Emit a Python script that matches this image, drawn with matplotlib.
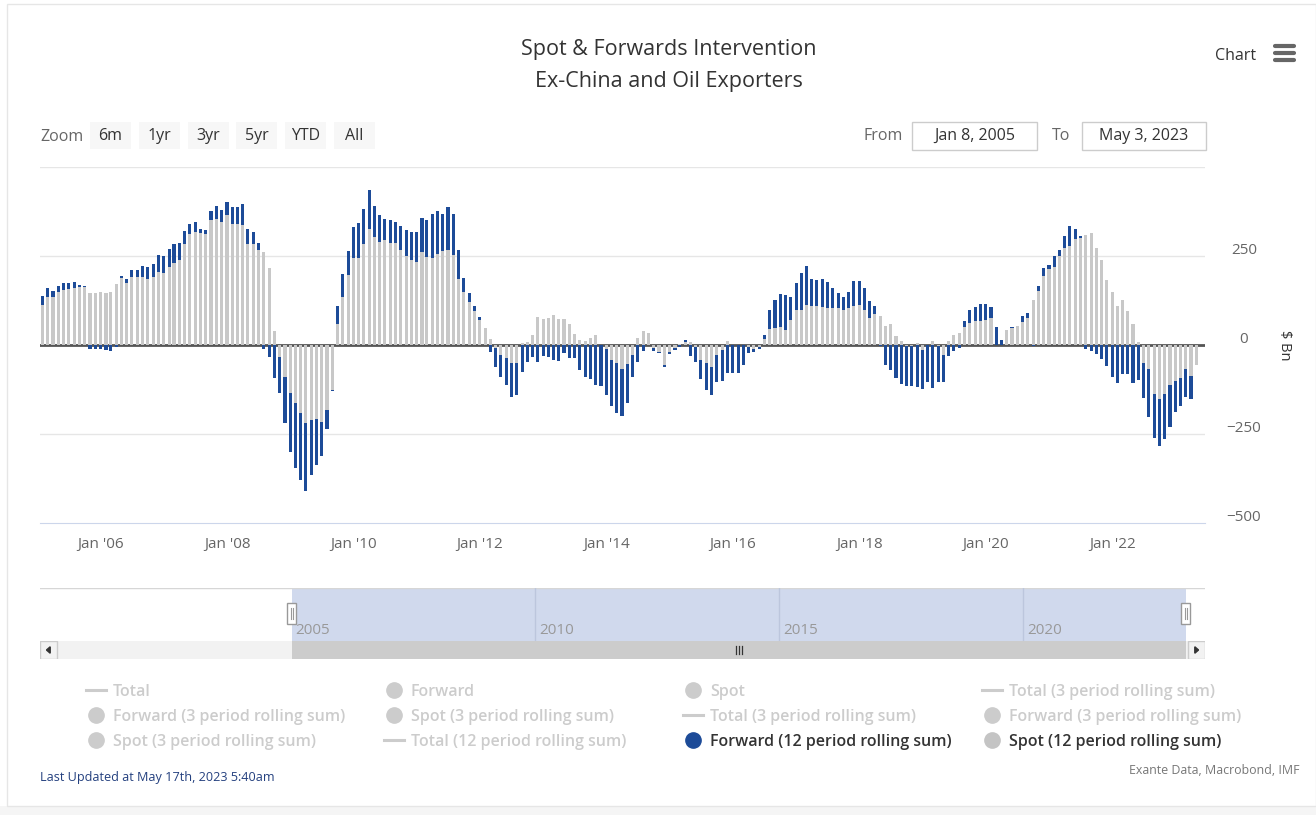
import numpy as np
import pandas as pd
import matplotlib
matplotlib.use('Agg')
import matplotlib.pyplot as plt
import matplotlib.dates as mdates
from matplotlib.patches import Rectangle, Polygon
from matplotlib.lines import Line2D
from matplotlib.transforms import blended_transform_factory, ScaledTranslation

plt.rcParams['font.family'] = ['Open Sans', 'DejaVu Sans']

W, H = 1316, 815

# monthly 12 period rolling sums, $ Bn, Jan 2005 .. Apr 2023
months = pd.date_range('2005-01-31', periods=220, freq='ME')

spot_12m = [
    112, 135, 135, 148, 154, 157, 159, 162, 162, 147, 147, 150,      # 2005
    147, 150, 170, 188, 173, 192, 192, 192, 185, 192, 206, 201,      # 2006
    218, 229, 240, 285, 311, 318, 315, 313, 350, 355, 346, 364,      # 2007
    341, 341, 336, 285, 285, 268, 262, 217, 39, -33, -89, -136,      # 2008
    -164, -192, -220, -210, -208, -215, -182, -127, 60, 136, 196, 243,  # 2009
    243, 285, 327, 303, 290, 294, 287, 287, 268, 249, 238, 233,      # 2010
    262, 247, 243, 257, 264, 266, 252, 185, 150, 121, 96, 70,        # 2011
    47, 16, -9, -28, -37, -51, -51, 5, 8, 28, 78, 72,                # 2012
    77, 84, 72, 72, 58, 30, 14, 11, 21, 28, 0, -12,                  # 2013
    -42, -50, -68, -53, -28, 20, 38, 35, -8, -20, -56, -19,          # 2014
    -8, 2, 8, 8, -5, -42, -51, -61, -28, -14, 12, 0,                 # 2015
    0, 0, -5, -12, -5, 17, 44, 47, 51, 42, 70, 98,                   # 2016
    97, 113, 109, 109, 107, 103, 103, 103, 98, 103, 109, 111,        # 2017
    99, 77, 87, 82, 54, 58, 25, 12, -3, -3, 5, -14,                  # 2018
    0, 12, -3, -28, 12, 28, 35, 51, 62, 68, 68, 71,                  # 2019
    76, 0, 0, 42, 47, 54, 65, 77, 126, 153, 195, 213,                # 2020
    218, 250, 272, 279, 297, 300, 309, 314, 272, 239, 182, 148,      # 2021
    110, 126, 96, 58, 8, -50, -68, -137, -152, -137, -113, -100,     # 2022
    -93, -68, -87, -56,                                              # 2023
]

forward_12m = [
    25, 24, 16, 17, 19, 16, 17, 6, 3, -10, -10, -12,                 # 2005
    -15, -18, -5, 5, 11, 18, 20, 31, 35, 35, 48, 49,                 # 2006
    53, 54, 47, 36, 28, 28, 12, 11, 26, 36, 34, 38,                  # 2007
    47, 47, 59, 42, 33, 19, -10, -35, -93, -103, -131, -164,         # 2008
    -182, -187, -191, -154, -128, -98, -54, -3, 50, 63, 69, 89,      # 2009
    100, 98, 107, 87, 74, 61, 65, 59, 66, 75, 80, 85,                # 2010
    96, 103, 126, 119, 105, 122, 117, 81, 37, 26, 14, 8,             # 2011
    0, -19, -52, -61, -75, -94, -89, -75, -49, -35, -49, -31,        # 2012
    -33, -42, -45, -23, -37, -37, -70, -89, -96, -112, -115, -128,   # 2013
    -129, -140, -131, -110, -61, -47, -18, 0, -8, -3, -6, -5,        # 2014
    -6, -5, 5, -30, -44, -54, -75, -79, -75, -86, -80, -80,          # 2015
    -80, -57, -18, -8, -5, 10, 54, 78, 92, 98, 65, 75,               # 2016
    104, 110, 77, 74, 77, 73, 56, 44, 37, 47, 71, 68,                # 2017
    62, 47, 22, -4, -57, -70, -93, -110, -113, -112, -118, -109,     # 2018
    -103, -120, -100, -75, -30, -18, -8, 17, 35, 39, 47, 44,         # 2019
    32, 50, 15, 0, 3, 0, 16, 14, -3, 14, 21, 12,                     # 2020
    33, 16, 35, 54, 28, 7, -12, -16, -25, -40, -60, -90,             # 2021
    -107, -82, -82, -107, -97, -100, -133, -123, -133, -126, -116, -89,  # 2022
    -78, -77, -65, 0,                                                # 2023
]

title_lines = ['Spot & Forwards Intervention', 'Ex-China and Oil Exporters']
zoom_buttons = ['6m', '1yr', '3yr', '5yr', 'YTD', 'All']
range_from = 'Jan 8, 2005'
range_to = 'May 3, 2023'
x_tick_years = [2006, 2008, 2010, 2012, 2014, 2016, 2018, 2020, 2022]
y_ticks = [250, 0, -250, -500]
nav_years = [2005, 2010, 2015, 2020]

legend_items = [
    ('Total', 'line', False), ('Forward', 'dot', False), ('Spot', 'dot', False),
    ('Total (3 period rolling sum)', 'line', False),
    ('Forward (3 period rolling sum)', 'dot', False), ('Spot (3 period rolling sum)', 'dot', False),
    ('Total (3 period rolling sum)', 'line', False), ('Forward (3 period rolling sum)', 'dot', False),
    ('Spot (3 period rolling sum)', 'dot', False), ('Total (12 period rolling sum)', 'line', False),
    ('Forward (12 period rolling sum)', 'dot', True), ('Spot (12 period rolling sum)', 'dot', True),
]

BLUE = '#1d4b98'
GREY = '#c8c8c8'
HIDDEN = '#cccccc'

view_start = pd.Timestamp('2005-01-08')
view_end = pd.Timestamp('2023-05-03')
plot_start = pd.Timestamp('2005-01-15')
plot_end = pd.Timestamp('2023-06-20')
nav_start = pd.Timestamp('1999-11-10')
nav_end = pd.Timestamp('2023-09-25')


def fx(x):
    return x / W


def fy(y):
    return 1 - y / H


def rect(x0, y0, x1, y1):
    return [x0 / W, 1 - y1 / H, (x1 - x0) / W, (y1 - y0) / H]


fig = plt.figure(figsize=(W / 100, H / 100), dpi=100)
fig.patch.set_facecolor('white')

# container border and grey strip at the bottom
fig.add_artist(Rectangle((0, 0), 1, fy(806), transform=fig.transFigure,
                         facecolor='#f5f5f5', edgecolor='none'))
fig.add_artist(Rectangle((fx(7), fy(806)), 1 - fx(7), fy(4) - fy(806), transform=fig.transFigure,
                         facecolor='none', edgecolor='#e6e6e6', lw=1))

# ---- main chart
ax = fig.add_axes(rect(40, 167, 1205, 523))
spot = np.array(spot_12m)
fwd = np.array(forward_12m)
fwd_base = np.where(np.sign(fwd) == np.sign(spot), spot, 0)

ax.bar(months, spot, width=18, color=GREY, zorder=3)
ax.bar(months, fwd, bottom=fwd_base, width=18, color=BLUE, zorder=3)

for yv in [500, 250, -250]:
    ax.axhline(yv, color='#e6e6e6', lw=1, zorder=1)
ax.axhline(0, color='#555555', lw=2, zorder=2)

ax.set_xlim(plot_start, plot_end)
ax.set_ylim(-500, 500)
for s in ['top', 'left', 'right']:
    ax.spines[s].set_visible(False)
ax.spines['bottom'].set_color('#ccd6eb')
ax.set_yticks([])
ax.set_xticks([pd.Timestamp(f'{y}-01-01') for y in x_tick_years])
ax.set_xticklabels([f"Jan '{y % 100:02d}" for y in x_tick_years])
ax.tick_params(axis='x', length=0, pad=10, labelsize=11, labelcolor='#666666')

ytrans = blended_transform_factory(ax.transAxes, ax.transData) + \
    ScaledTranslation(0, 0.055, fig.dpi_scale_trans)
for yv in y_ticks:
    ax.text(1 + (1244 - 1205) / 1165, yv, f'{yv}'.replace('-', '\u2212'), transform=ytrans,
            ha='center', va='center', fontsize=11, color='#666666')
fig.text(fx(1285), fy(345), '$ Bn', rotation=270, ha='center', va='center',
         fontsize=10.5, color='#333333')

# ---- title and menu
fig.text(fx(669), fy(50), title_lines[0], ha='center', va='center', fontsize=15.5, color='#333333')
fig.text(fx(669), fy(82), title_lines[1], ha='center', va='center', fontsize=15.5, color='#333333')
fig.text(fx(1236), fy(56), 'Chart', ha='center', va='center', fontsize=11.5, color='#333333')
for yy in [46, 53, 60]:
    fig.add_artist(Line2D([fx(1275), fx(1294)], [fy(yy), fy(yy)], transform=fig.transFigure,
                          color='#666666', lw=3, solid_capstyle='round'))

# ---- range selector
fig.text(fx(40), fy(137), 'Zoom', ha='left', va='center', fontsize=11.5, color='#666666')
bx = 90
for lab in zoom_buttons:
    fig.add_artist(Rectangle((fx(bx), fy(149)), 41 / W, 27 / H, transform=fig.transFigure,
                             facecolor='#f7f7f7', edgecolor='none'))
    fig.text(fx(bx + 20.5), fy(136), lab, ha='center', va='center', fontsize=11.5, color='#333333')
    bx += 48.8

fig.text(fx(903), fy(136), 'From', ha='right', va='center', fontsize=11.5, color='#666666')
fig.text(fx(1061), fy(136), 'To', ha='center', va='center', fontsize=11.5, color='#666666')
for (x0, x1), lab in zip([(912, 1037), (1082, 1206)], [range_from, range_to]):
    fig.add_artist(Rectangle((fx(x0), fy(150)), (x1 - x0) / W, 28 / H, transform=fig.transFigure,
                             facecolor='white', edgecolor='#cccccc', lw=1))
    fig.text(fx((x0 + x1) / 2), fy(136), lab, ha='center', va='center', fontsize=11.5, color='#333333')

# ---- navigator
nav = fig.add_axes(rect(40, 588, 1205, 641))
nav.set_xlim(nav_start, nav_end)
nav.set_ylim(0, 1)
nav.axis('off')
nav.axvspan(view_start, view_end, color='#d0d9ed', lw=0)
nav.axhline(1, color='#d6d6d6', lw=1)
ntrans = blended_transform_factory(nav.transData, nav.transAxes)
for yr in nav_years:
    d = pd.Timestamp(f'{yr}-01-01')
    if yr > 2005:
        nav.axvline(d, color='#bcc6dd', lw=1)
    nav.text(d, 0.2, str(yr), transform=ntrans + ScaledTranslation(0.04, 0, fig.dpi_scale_trans),
             ha='left', va='center', fontsize=11, color='#999999')
hw = 67
for d in [view_start, view_end]:
    dn = mdates.date2num(d)
    nav.add_patch(Rectangle((dn - hw / 2, 0.33), hw, 0.38, transform=ntrans,
                            facecolor='white', edgecolor='#999999', lw=1, zorder=5))
    for off in [-7, 7]:
        nav.add_line(Line2D([dn + off, dn + off], [0.42, 0.62], transform=ntrans,
                            color='#999999', lw=0.8, zorder=6))

# ---- scrollbar
sb = fig.add_axes(rect(40, 641, 1205, 659))
sb.set_xlim(nav_start, nav_end)
sb.set_ylim(0, 1)
sb.set_facecolor('#f2f2f2')
for s in sb.spines.values():
    s.set_visible(False)
sb.set_xticks([])
sb.set_yticks([])
sb.axvspan(view_start, view_end, color='#cccccc', lw=0)
btn_w = 17 / 1165
sb.add_patch(Rectangle((0, 0), btn_w, 1, transform=sb.transAxes,
                       facecolor='#f2f2f2', edgecolor='#cccccc', lw=1))
sb.add_patch(Rectangle((1 - btn_w, 0), btn_w, 1, transform=sb.transAxes,
                       facecolor='#f2f2f2', edgecolor='#cccccc', lw=1))
sb.add_patch(Polygon([[btn_w * 0.38, 0.5], [btn_w * 0.6, 0.32], [btn_w * 0.6, 0.68]],
                     closed=True, transform=sb.transAxes, color='#333333'))
sb.add_patch(Polygon([[1 - btn_w * 0.38, 0.5], [1 - btn_w * 0.6, 0.32], [1 - btn_w * 0.6, 0.68]],
                     closed=True, transform=sb.transAxes, color='#333333'))
mid = view_start + (view_end - view_start) / 2
strans = blended_transform_factory(sb.transData, sb.transAxes)
for off in [-22, 0, 22]:
    m = mdates.date2num(mid) + off
    sb.add_line(Line2D([m, m], [0.3, 0.7], transform=strans, color='#333333', lw=0.9))

# ---- legend
col_x = [96, 394, 693, 992]
row_y = [690, 715, 740]
for i, (lab, kind, on) in enumerate(legend_items):
    cx, cy = col_x[i % 4], row_y[i // 4]
    if kind == 'line':
        fig.add_artist(Line2D([fx(cx - 10), fx(cx + 10)], [fy(cy), fy(cy)],
                              transform=fig.transFigure, color=HIDDEN, lw=2.2))
    else:
        if on and lab.startswith('Forward'):
            mc = BLUE
        elif on:
            mc = '#c4c4c4'
        else:
            mc = HIDDEN
        fig.add_artist(Line2D([fx(cx)], [fy(cy)], transform=fig.transFigure, marker='o',
                              markersize=11, color=mc, linestyle='none'))
    fig.text(fx(cx + 17), fy(cy + 2), lab, ha='left', va='center', fontsize=11.5,
             fontweight='semibold', color='#333333' if on else HIDDEN)

# ---- footer
fig.text(fx(40), fy(777), 'Last Updated at May 17th, 2023 5:40am', ha='left', va='center',
         fontsize=9.1, color='#24407f')
fig.text(fx(1300), fy(771), 'Exante Data, Macrobond, IMF', ha='right', va='center',
         fontsize=8.9, color='#777777')

fig.savefig('out.png', dpi=100)
